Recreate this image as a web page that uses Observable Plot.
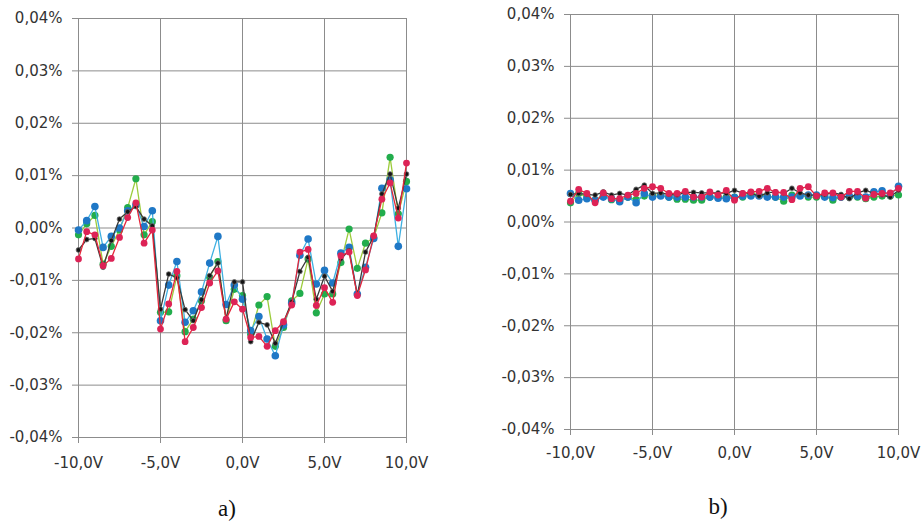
<!DOCTYPE html>
<html>
<head>
<meta charset="utf-8">
<script src="https://cdn.jsdelivr.net/npm/d3@7"></script>
<script src="https://cdn.jsdelivr.net/npm/@observablehq/plot@0.6"></script>
<style>
  html, body { margin: 0; padding: 0; background: #fff; }
  #wrap { position: relative; width: 923px; height: 527px; overflow: hidden; background: #fff; }
  .panel { position: absolute; top: 0; }
  .cap { position: absolute; font-family: "Liberation Serif", "DejaVu Serif", serif; font-size: 23px; color: #111; transform: translateX(-50%); }
</style>
</head>
<body>
<div id="wrap">
  <div id="pa" class="panel" style="left:0px"></div>
  <div id="pb" class="panel" style="left:460px"></div>
  <div class="cap" style="left:227px; top:496px">a)</div>
  <div class="cap" style="left:718px; top:494px">b)</div>
</div>
<script>
// x positions (V)
const volts = [-10,-9.5,-9,-8.5,-8,-7.5,-7,-6.5,-6,-5.5,-5,-4.5,-4,-3.5,-3,-2.5,-2,-1.5,-1,-0.5,0,0.5,1,1.5,2,2.5,3,3.5,4,4.5,5,5.5,6,6.5,7,7.5,8,8.5,9,9.5,10];

// axis ticks and labels
const xTicks = [-10, -5, 0, 5, 10];
const xTickLabels = ["-10,0V", "-5,0V", "0,0V", "5,0V", "10,0V"];
const yTicks = [-0.04, -0.03, -0.02, -0.01, 0, 0.01, 0.02, 0.03, 0.04];
const yTickLabels = ["-0,04%", "-0,03%", "-0,02%", "-0,01%", "0,00%", "0,01%", "0,02%", "0,03%", "0,04%"];

// panel a) values in %
const blueA  = [-0.0004,0.0014,0.0041,-0.0037,-0.0016,0.0000,0.0033,0.0044,0.0003,0.0033,-0.0177,-0.0109,-0.0064,-0.0180,-0.0158,-0.0122,-0.0067,-0.0016,-0.0146,-0.0109,-0.0136,-0.0196,-0.0169,-0.0212,-0.0244,-0.0185,-0.0143,-0.0052,-0.0021,-0.0107,-0.0081,-0.0105,-0.0048,-0.0037,-0.0126,-0.0075,-0.0020,0.0076,0.0092,-0.0035,0.0075];
const greenA = [-0.0013,0.0008,0.0024,-0.0069,-0.0035,-0.0004,0.0039,0.0094,-0.0013,0.0012,-0.0161,-0.0160,-0.0091,-0.0198,-0.0174,-0.0139,-0.0094,-0.0064,-0.0177,-0.0117,-0.0129,-0.0203,-0.0147,-0.0131,-0.0226,-0.0190,-0.0139,-0.0125,-0.0059,-0.0162,-0.0126,-0.0126,-0.0066,-0.0002,-0.0077,-0.0029,-0.0018,0.0029,0.0135,0.0027,0.0089];
const blackA = [-0.0042,-0.0022,-0.0020,-0.0075,-0.0024,0.0017,0.0031,0.0041,0.0017,0.0004,-0.0155,-0.0088,-0.0095,-0.0156,-0.0177,-0.0137,-0.0091,-0.0067,-0.0173,-0.0103,-0.0103,-0.0217,-0.0180,-0.0185,-0.0220,-0.0180,-0.0141,-0.0083,-0.0056,-0.0136,-0.0092,-0.0121,-0.0059,-0.0043,-0.0128,-0.0046,-0.0016,0.0065,0.0103,0.0038,0.0103];
const redA   = [-0.0059,-0.0007,-0.0013,-0.0072,-0.0058,-0.0018,0.0020,0.0048,-0.0029,-0.0004,-0.0193,-0.0145,-0.0083,-0.0217,-0.0190,-0.0152,-0.0105,-0.0082,-0.0174,-0.0141,-0.0155,-0.0209,-0.0207,-0.0226,-0.0196,-0.0179,-0.0147,-0.0046,-0.0041,-0.0148,-0.0114,-0.0142,-0.0053,-0.0046,-0.0129,-0.0080,-0.0015,0.0055,0.0086,0.0019,0.0124];

// panel b) values in %
const blueB  = [0.0055,0.0042,0.0045,0.0042,0.0048,0.0045,0.0039,0.0048,0.0037,0.0055,0.0048,0.0050,0.0048,0.0048,0.0048,0.0048,0.0048,0.0048,0.0046,0.0045,0.0047,0.0050,0.0050,0.0050,0.0048,0.0048,0.0048,0.0048,0.0050,0.0052,0.0052,0.0048,0.0047,0.0048,0.0050,0.0050,0.0048,0.0058,0.0060,0.0052,0.0069];
const greenB = [0.0037,0.0055,0.0048,0.0042,0.0052,0.0043,0.0042,0.0048,0.0043,0.0050,0.0052,0.0052,0.0048,0.0044,0.0044,0.0042,0.0042,0.0048,0.0048,0.0048,0.0048,0.0048,0.0056,0.0052,0.0050,0.0048,0.0040,0.0052,0.0052,0.0048,0.0048,0.0050,0.0042,0.0048,0.0048,0.0048,0.0045,0.0048,0.0050,0.0050,0.0052];
const blackB = [0.0053,0.0055,0.0053,0.0052,0.0058,0.0052,0.0055,0.0052,0.0063,0.0071,0.0055,0.0056,0.0053,0.0052,0.0057,0.0057,0.0056,0.0056,0.0056,0.0055,0.0061,0.0056,0.0055,0.0050,0.0056,0.0058,0.0055,0.0065,0.0056,0.0052,0.0052,0.0053,0.0056,0.0053,0.0045,0.0056,0.0061,0.0055,0.0052,0.0048,0.0061];
const redB   = [0.0040,0.0063,0.0055,0.0037,0.0056,0.0045,0.0045,0.0052,0.0055,0.0065,0.0068,0.0065,0.0055,0.0055,0.0059,0.0048,0.0048,0.0058,0.0052,0.0061,0.0042,0.0055,0.0058,0.0059,0.0065,0.0057,0.0057,0.0043,0.0065,0.0068,0.0050,0.0056,0.0056,0.0048,0.0059,0.0059,0.0046,0.0053,0.0055,0.0056,0.0065];

const styles = {
  green: {line: "#9ccc3c", dot: "#22ad4c", r: 3.6},
  blue:  {line: "#3fb0e2", dot: "#1f78c6", r: 3.8},
  black: {line: "#3a3a3a", dot: "#151515", r: 2.4},
  red:   {line: "#e5263a", dot: "#dd2356", r: 3.4}
};

function rows(vals) { return volts.map((x, i) => ({x, y: vals[i]})); }

function seriesMarks(series) {
  const marks = [];
  for (const [key, vals] of series) {
    const s = styles[key];
    const d = rows(vals);
    marks.push(Plot.line(d, {x: "x", y: "y", stroke: s.line, strokeWidth: 1.3}));
    marks.push(Plot.dot(d, {x: "x", y: "y", r: s.r, fill: s.dot, stroke: key === "black" ? "#6b6b6b" : "none", strokeWidth: 0.8}));
  }
  return marks;
}

function panel(series, opts) {
  return Plot.plot({
    width: opts.width,
    height: opts.height,
    marginLeft: opts.ml,
    marginRight: opts.mr,
    marginTop: opts.mt,
    marginBottom: opts.mb,
    style: {fontFamily: "DejaVu Sans, sans-serif", fontSize: "15px", color: "#333", background: "#fff", overflow: "visible"},
    x: {domain: [-10, 10], label: null},
    y: {domain: [-0.04, 0.04], label: null},
    marks: [
      Plot.gridX(xTicks, {stroke: "#8c8c8c", strokeOpacity: 1, strokeWidth: 1}),
      Plot.gridY(yTicks, {stroke: "#8c8c8c", strokeOpacity: 1, strokeWidth: 1}),
      Plot.axisY(yTicks, {tickSize: 6, tickPadding: 10, stroke: "#8c8c8c", fill: "#333", tickFormat: d => yTickLabels[yTicks.indexOf(d)], label: null}),
      Plot.axisX(xTicks, {tickSize: 6, tickPadding: opts.xpad, stroke: "#8c8c8c", fill: "#333", tickFormat: d => xTickLabels[xTicks.indexOf(d)], label: null}),
      ...seriesMarks(series)
    ]
  });
}

document.getElementById("pa").appendChild(panel(
  [["green", greenA], ["blue", blueA], ["black", blackA], ["red", redA]],
  {width: 440, height: 477, ml: 78, mr: 34, mt: 18, mb: 40, xpad: 14}
));
document.getElementById("pb").appendChild(panel(
  [["green", greenB], ["blue", blueB], ["black", blackB], ["red", redB]],
  {width: 463, height: 469, ml: 110, mr: 25, mt: 14, mb: 40, xpad: 12}
));
</script>
</body>
</html>
